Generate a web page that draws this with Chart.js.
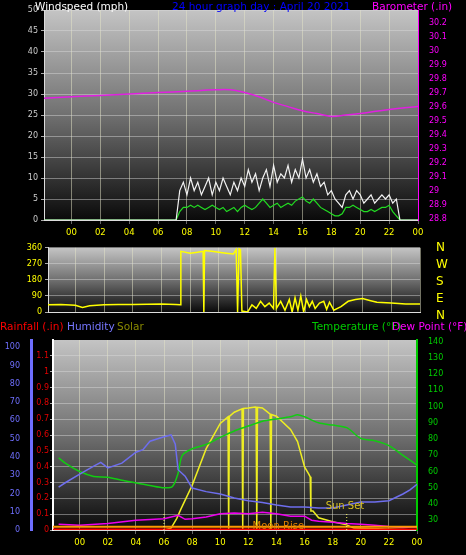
<!DOCTYPE html>
<html><head><meta charset="utf-8">
<script src="https://cdn.jsdelivr.net/npm/chart.js@4"></script>
<style>
body{margin:0;background:#000;width:466px;height:555px;overflow:hidden;position:relative;font-family:"DejaVu Sans",sans-serif}
canvas{position:absolute;left:0}
.t{position:absolute;font-size:10.5px;white-space:nowrap;line-height:12px}
</style></head><body>
<canvas id="c1" style="top:0px" width="466" height="245"></canvas>
<canvas id="c2" style="top:240px" width="466" height="80"></canvas>
<canvas id="c3" style="top:330px" width="466" height="225"></canvas>
<div class="t" style="left:35px;top:0;color:#fff">Windspeed (mph)</div>
<div class="t" style="left:172px;top:0;color:#00f">24 hour graph day : April 20 2021</div>
<div class="t" style="left:372px;top:0;color:#f0f">Barometer (.in)</div>
<div class="t" style="left:436px;top:239px;color:#ff0;font-size:12px;line-height:17px">N<br>W<br>S<br>E<br>N</div>
<div class="t" style="left:0;top:320px;color:#f00">Rainfall (.in)</div>
<div class="t" style="left:67px;top:320px;color:#77f">Humidity</div>
<div class="t" style="left:117px;top:320px;color:#880">Solar</div>
<div class="t" style="left:312px;top:320px;color:#0c0">Temperature (°F)</div>
<div class="t" style="left:392px;top:320px;color:#f0f">Dew Point (°F)</div>
<script>
const hourTicks=[0,2,4,6,8,10,12,14,16,18,20,22,24];
const baroHours=[-1.9,0,2,4,6,8,10,11,12,13,14,15,16,17,18,19,20,22,24];
const baroValues=[29.66,29.67,29.68,29.69,29.70,29.71,29.72,29.72,29.70,29.67,29.63,29.60,29.57,29.55,29.53,29.54,29.55,29.58,29.60];
const windHours=[-1.9,7.0,7.25,7.5,7.75,8,8.25,8.5,8.75,9,9.25,9.5,9.75,10,10.25,10.5,10.75,11,11.25,11.5,11.75,12,12.25,12.5,12.75,13,13.25,13.5,13.75,14,14.25,14.5,14.75,15,15.25,15.5,15.75,16,16.25,16.5,16.75,17,17.25,17.5,17.75,18,18.25,18.5,18.75,19,19.25,19.5,19.75,20,20.25,20.5,20.75,21,21.25,21.5,21.75,22,22.25,22.5,22.75,24];
const windGust=[0,0,0,7,9,6,10,7,9,6,8,10,6,9,7,10,8,6,9,7,10,8,12,9,11,7,10,12,8,13,9,11,10,13,9,12,10,14.5,10,12,9,11,8,9,6,7,5,4,3,6,7,5,7,6,4,5,6,4,5,6,5,6,4,5,0,0];
const windAvg=[0,0,0,2,3,3,3.5,3,3.5,3,2.5,3,3.5,3,2.5,3,2,2.5,3,2,3,3.5,3,2.5,3,4,5,4,3,3.5,4,3,3.5,4,3.5,4.5,5,5.5,4.5,4,5,4,3,2.5,2,1.5,1,1,1.5,3,3,3.5,3,2.5,2,2,2.5,2,2.5,3,3,3.5,2,1,0,0];
const dirHours=[-1.9,-1,0,0.5,1,2,3,4,5,6,7,7.3,7.35,8,8.5,8.9,8.95,9.0,9.5,10,10.5,11,11.2,11.3,11.4,11.5,11.6,12,12.3,12.6,12.9,13.2,13.5,13.8,13.9,14,14.3,14.6,14.9,15.1,15.3,15.5,15.7,15.9,16.1,16.3,16.5,16.7,17,17.3,17.5,17.7,18,18.5,19,19.5,20,20.5,21,22,23,24];
const dirValues=[40,42,38,25,35,40,42,42,44,45,42,40,340,330,335,340,0,345,340,335,330,325,350,0,355,350,5,0,40,20,60,30,50,20,360,20,60,10,70,0,80,10,90,0,70,30,60,20,50,60,15,55,10,30,60,70,75,65,55,50,45,45];
const humHours=[-1.5,-1,0,1,1.5,2,3,4,4.5,5,6,6.5,6.8,7,7.5,8,9,10,11,12,13,14,15,16,17,18,19,20,21,22,23,23.5,24];
const humValues=[23.5,26,30.6,35,37,34,36.6,42.6,44,48.6,51,52,47,33,29.5,23,21,19.7,17.5,16,15,13.7,12.6,12.6,12,12,13.7,15.3,15.3,16,19.7,22,25];
const tempHours=[-1.5,-1,0,1,2,3,4,5,6,6.6,7,7.3,8,9,10,11,12,13,14,15,15.5,16,17,18,19,20,21,22,23,24];
const tempValues=[68.5,65,60,57,56.5,54.6,53,51.4,50,50.8,59,70,74,76.7,81,85,88,91,92.4,93.7,95,93.7,90,88.6,87,80.4,79,76,70,64];
const dewHours=[-1.5,0,2,4,6,7,7.5,8,9,10,11,12,13,14,15,16,16.5,17,18,19,20,21,22,23,24];
const dewValues=[27.5,27,28,30,31,33,30.6,31,32,34,34.4,34,35,34,32.5,32.5,30,29.4,28.7,28,27.5,27,26.2,25.6,26];
const solarHours=[-1.5,6,6.5,6.9,7.2,8,9,10,10.55,10.6,10.65,11,11.55,11.6,11.65,12,12.5,12.55,12.6,12.65,13,13.55,13.6,13.65,14,15,15.5,16,16.3,16.4,16.45,16.6,17,18,19,19.5,24];
const solarValues=[0,0,10,60,110,235,428,561,595,0,598,620,638,0,640,642,647,646,0,646,642,610,0,608,599,529,465,332,294,280,100,100,64,43,27,10,0];
const rainHours=[-1.9,24];
const rainValues=[0,0];
const moonHours=[-1.9,24];
const moonValues=[0.02,0.02];
const sunRise=6.0, sunSet=19.0;

const XMIN=-1.9,XMAX=24;
const pts=(h,v)=>h.map((x,i)=>({x,y:v[i]}));
const bgPlugin={id:'bg',beforeDraw(c){const a=c.chartArea,g=c.ctx;const gr=g.createLinearGradient(0,a.top,0,a.bottom);gr.addColorStop(0,'#c4c4c4');gr.addColorStop(0.5,'#707070');gr.addColorStop(1,'#0a0a0a');g.save();g.fillStyle=gr;g.fillRect(a.left,a.top,a.right-a.left,a.bottom-a.top);g.restore();}};
function xScale(show){return {type:'linear',min:XMIN,max:XMAX,display:true,
 afterBuildTicks(s){s.ticks=hourTicks.map(v=>({value:v}));},
 afterFit(s){s.height=show?25:0;},
 ticks:{display:show,color:'#ff0',font:{size:8.5},padding:4,callback:v=>String(v%24).padStart(2,'0'),autoSkip:false,maxRotation:0},
 grid:{color:'rgba(230,230,200,0.5)',lineWidth:1,drawTicks:show,tickLength:4,tickColor:'#666'},
 border:{display:true,color:'#ddd',dash:[]}};}
function grid(){return {color:'rgba(220,220,220,0.45)',tickColor:'#aaa',tickLength:3};}
const base={responsive:false,animation:false,plugins:{legend:{display:false},tooltip:{enabled:false}},elements:{point:{radius:0},line:{tension:0}}};
Chart.defaults.font.family='DejaVu Sans';

new Chart(document.getElementById('c1'),{type:'line',plugins:[bgPlugin],data:{datasets:[
 {data:pts(baroHours,baroValues),yAxisID:'baro',borderColor:'#e020e0',borderWidth:1.5,tension:0.4},
 {data:pts(windHours,windGust),yAxisID:'y',borderColor:'#f2f2f2',borderWidth:1.2},
 {data:pts(windHours,windAvg),yAxisID:'y',borderColor:'#22dd22',borderWidth:1.2}
]},options:{...base,layout:{padding:{top:10,left:0,right:0}},scales:{
 x:xScale(true),
 y:{min:0,max:50,position:'left',afterFit(s){s.width=44},ticks:{stepSize:5,color:'#ccc',font:{size:8}},grid:grid(),border:{color:'#ddd'}},
 baro:{min:28.79,max:30.29,position:'right',afterFit(s){s.width=48},afterBuildTicks(s){s.ticks=[28.8,28.9,29,29.1,29.2,29.3,29.4,29.5,29.6,29.7,29.8,29.9,30,30.1,30.2].map(v=>({value:v}))},ticks:{color:'#f0f',font:{size:8},callback:v=>String(Math.round(v*10)/10)},grid:{display:false},border:{color:'#f0f'}}
}}});

new Chart(document.getElementById('c2'),{type:'line',plugins:[bgPlugin],data:{datasets:[
 {data:pts(dirHours,dirValues),borderColor:'#ffff00',borderWidth:1.5}
]},options:{...base,layout:{padding:{top:3,right:46,bottom:8}},scales:{
 x:{...xScale(false)},
 y:{min:0,max:360,afterFit(s){s.width=48},afterBuildTicks(s){s.ticks=[0,90,180,270,360].map(v=>({value:v}))},ticks:{color:'#ff0',font:{size:8}},grid:grid(),border:{color:'#ddd'}}
}}});

const marks={id:'marks',afterDatasetsDraw(c){const g=c.ctx,x=c.scales.x;g.save();g.strokeStyle='#ffff66';g.setLineDash([1,2]);g.lineWidth=1;
 [sunRise,sunSet].forEach(h=>{const px=x.getPixelForValue(h);g.beginPath();g.moveTo(px,c.chartArea.bottom);g.lineTo(px,c.chartArea.bottom-18);g.stroke();});
 g.setLineDash([]);g.font='10px DejaVu Sans';g.fillStyle='#d8c020';g.fillText('Sun Set',x.getPixelForValue(17.5),c.chartArea.bottom-21);
 g.fillStyle='#e08000';g.fillText('Moon Rise',x.getPixelForValue(12.3),c.chartArea.bottom-1);g.restore();}};

new Chart(document.getElementById('c3'),{type:'line',plugins:[bgPlugin,marks],data:{datasets:[
 {data:pts(rainHours,rainValues),yAxisID:'rain',borderColor:'#ff0000',borderWidth:3},
 {data:pts(moonHours,moonValues),yAxisID:'rain',borderColor:'#ff9900',borderWidth:2},
 {data:pts(humHours,humValues),yAxisID:'hum',borderColor:'#6e6eee',borderWidth:1.5},
 {data:pts(tempHours,tempValues),yAxisID:'temp',borderColor:'#11cc11',borderWidth:1.5,tension:0.3},
 {data:pts(dewHours,dewValues),yAxisID:'temp',borderColor:'#ee00ee',borderWidth:1.5},
 {data:pts(solarHours,solarValues),yAxisID:'s',borderColor:'#eeee22',borderWidth:1.5}
]},options:{...base,layout:{padding:{top:10}},scales:{
 x:xScale(true),
 rain:{min:0,max:1.2,position:'left',afterFit(s){s.width=22},afterBuildTicks(s){s.ticks=[0,0.1,0.2,0.3,0.4,0.5,0.6,0.7,0.8,0.9,1,1.1].map(v=>({value:v}))},ticks:{color:'#e00000',font:{size:8},padding:1,callback:v=>String(Math.round(v*10)/10)},grid:grid(),border:{color:'#fff',width:2}},
 hum:{min:0,max:104,position:'left',afterFit(s){s.width=31},afterBuildTicks(s){s.ticks=[0,10,20,30,40,50,60,70,80,90,100].map(v=>({value:v}))},ticks:{color:'#6f6fff',font:{size:8}},grid:{display:false,tickColor:'#6f6fff'},border:{color:'#6f6fff',width:3}},
 temp:{min:24,max:141,position:'right',afterFit(s){s.width=49},afterBuildTicks(s){s.ticks=[30,40,50,60,70,80,90,100,110,120,130,140].map(v=>({value:v}))},ticks:{color:'#0c0',font:{size:8}},grid:{display:false,tickColor:'#0c0'},border:{color:'#0c0',width:2}},
 s:{min:0,max:1000,display:false}
}}});
</script></body></html>
